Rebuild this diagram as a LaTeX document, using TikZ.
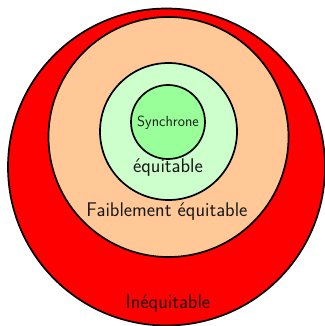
\documentclass[tikz,border=0pt]{standalone}
\usepackage{fontspec}
\usepackage{xcolor}
\definecolor{peach}{RGB}{255,200,150}
\definecolor{lightgr}{RGB}{204,255,204}
\definecolor{darkgr}{RGB}{153,255,153}
\begin{document}
\begin{tikzpicture}[x=1pt,y=-1pt,
  ring/.style={circle,draw=black,line width=1.7pt,inner sep=0pt,minimum size=#1},
  lbl/.style={font=\sffamily\fontsize{19.8}{23}\selectfont,text=black!90,anchor=base,inner sep=0pt}]
\useasboundingbox (0,0) rectangle (324,326);
\node[ring=317pt,fill=red] (ineq) at (166.5,167) {};
\node[ring=240pt,fill=peach] (faib) at (168.5,137) {};
\node[ring=137pt,fill=lightgr] (equi) at (168.5,131.5) {};
\node[ring=74pt,fill=darkgr] (sync) at (168,122) {};
\node[font=\sffamily\fontsize{14.7}{17}\selectfont,text=black!90,anchor=base,inner sep=0pt] (tsync) at (168,126.5) {Synchrone};
\node[lbl] (tequi) at (168,172.5) {équitable};
\node[lbl] (tfaib) at (167,216.5) {Faiblement équitable};
\node[lbl] (tineq) at (168,308.3) {Inéquitable};
\end{tikzpicture}
\end{document}
